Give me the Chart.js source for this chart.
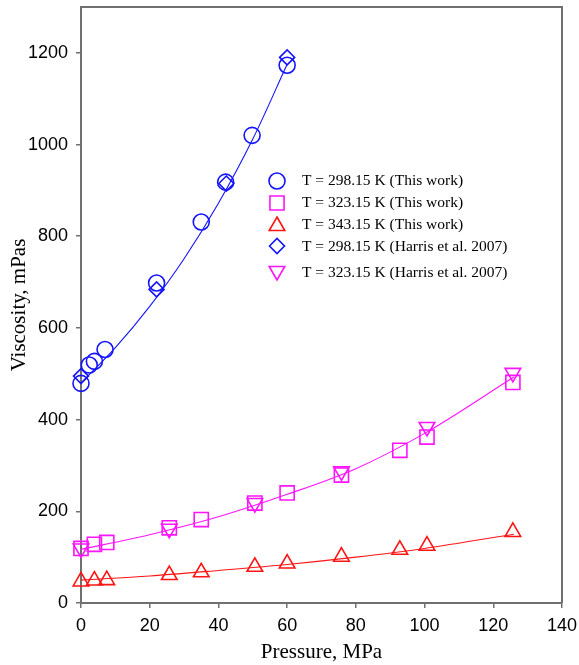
<!DOCTYPE html>
<html>
<head>
<meta charset="utf-8">
<script src="https://cdn.jsdelivr.net/npm/chart.js@4"></script>
<style>
  body { margin: 0; background: #fff; }
  #wrap { width: 579px; height: 665px; }
</style>
</head>
<body>
<div id="wrap"><canvas id="viscChart"></canvas></div>
<script>
// measured points, pressure in MPa, viscosity in mPa s
const p298 = [0, 2.4, 3.9, 7.0, 22.0, 35.0, 42.1, 49.8, 60.0];
const v298 = [479, 519, 527, 553, 698, 831, 918, 1020, 1173];
const p323 = [0, 3.9, 7.5, 25.7, 35.0, 50.6, 60.0, 75.8, 92.8, 100.7, 125.7];
const v323 = [119, 128, 132, 164, 182, 218, 240, 279, 333, 362, 481];
const p343 = [0, 3.9, 7.5, 25.7, 35.0, 50.6, 60.0, 75.8, 92.8, 100.7, 125.7];
const v343 = [47, 49, 50, 61, 67, 79, 86, 101, 116, 125, 155];

// literature values (Harris et al. 2007)
const pHarris298 = [0, 22.0, 42.3, 60.0];
const vHarris298 = [495, 684, 915, 1190];
const pHarris323 = [0, 25.7, 50.6, 75.8, 100.7, 125.7];
const vHarris323 = [119, 162, 218, 287, 384, 502];

// correlation curves
const pFit298 = [0, 10, 20, 30, 40, 50, 60];
const vFit298 = [480, 557, 647, 751, 872, 1012, 1175];
const pFit323 = [0, 20, 40, 60, 80, 100, 126];
const vFit323 = [117, 149, 188, 237, 293, 370, 493];
const pFit343 = [0, 20, 40, 60, 80, 100, 126];
const vFit343 = [50, 59, 71, 84, 100, 119, 150];

const xTicks = [0, 20, 40, 60, 80, 100, 120, 140];
const yTicks = [0, 200, 400, 600, 800, 1000, 1200];

const legendLabels = [
  'T = 298.15 K (This work)',
  'T = 323.15 K (This work)',
  'T = 343.15 K (This work)',
  'T = 298.15 K (Harris et al. 2007)',
  'T = 323.15 K (Harris et al. 2007)'
];

const BLUE = '#1414ff';
const MAGENTA = '#ff14ff';
const RED = '#ff1414';
const AXIS = '#707070';

const pts = (xs, ys) => xs.map((x, i) => ({ x: x, y: ys[i] }));

function markers(label, xs, ys, color, style, radius, rotation) {
  return {
    label: label,
    data: pts(xs, ys),
    showLine: false,
    pointStyle: style,
    pointRadius: radius,
    pointHoverRadius: radius,
    pointRotation: rotation || 0,
    pointBorderColor: color,
    pointBackgroundColor: 'rgba(0,0,0,0)',
    pointBorderWidth: 1.6,
    borderColor: color,
    clip: false
  };
}

function curve(xs, ys, color) {
  return {
    type: 'line',
    data: pts(xs, ys),
    borderColor: color,
    borderWidth: 1.1,
    pointRadius: 0,
    cubicInterpolationMode: 'monotone',
    fill: false,
    clip: false
  };
}

// box around the plot plus the legend inside it
const framePlugin = {
  id: 'frame',
  beforeDatasetsDraw(chart) {
    const { ctx, chartArea: a } = chart;
    ctx.save();
    ctx.strokeStyle = AXIS;
    ctx.lineWidth = 2;
    ctx.beginPath();
    ctx.moveTo(a.left, a.top);
    ctx.lineTo(a.right, a.top);
    ctx.lineTo(a.right, a.bottom);
    ctx.stroke();
    ctx.restore();
  },
  afterDatasetsDraw(chart, args, opts) {
    const { ctx } = chart;
    ctx.save();
    ctx.font = opts.font;
    ctx.textBaseline = 'middle';
    ctx.textAlign = 'left';
    opts.rows.forEach((row, i) => {
      const ds = chart.data.datasets[i];
      ctx.fillStyle = 'rgba(0,0,0,0)';
      ctx.strokeStyle = ds.pointBorderColor;
      ctx.lineWidth = ds.pointBorderWidth;
      Chart.helpers.drawPoint(ctx, {
        pointStyle: ds.pointStyle,
        radius: ds.pointRadius,
        rotation: ds.pointRotation,
        borderWidth: ds.pointBorderWidth
      }, opts.symbolX, row.sy);
      ctx.fillStyle = '#000';
      ctx.fillText(legendLabels[i], opts.textX, row.ty);
    });
    ctx.restore();
  }
};

Chart.defaults.font.family = '"Liberation Sans", Arial, sans-serif';
Chart.defaults.font.size = 18;
Chart.defaults.color = '#000';

new Chart(document.getElementById('viscChart'), {
  type: 'scatter',
  data: {
    datasets: [
      markers(legendLabels[0], p298, v298, BLUE, 'circle', 8),
      markers(legendLabels[1], p323, v323, MAGENTA, 'rect', 10),
      markers(legendLabels[2], p343, v343, RED, 'triangle', 9),
      markers(legendLabels[3], pHarris298, vHarris298, BLUE, 'rectRot', 7.5),
      markers(legendLabels[4], pHarris323, vHarris323, MAGENTA, 'triangle', 9, 180),
      curve(pFit298, vFit298, BLUE),
      curve(pFit323, vFit323, MAGENTA),
      curve(pFit343, vFit343, RED)
    ]
  },
  options: {
    responsive: true,
    maintainAspectRatio: false,
    animation: false,
    layout: { autoPadding: false, padding: { top: 7, right: 17, left: 0, bottom: 0 } },
    plugins: {
      legend: { display: false },
      tooltip: { enabled: false },
      frame: {
        font: '15.5px "Liberation Serif", "Times New Roman", serif',
        symbolX: 277,
        textX: 302,
        rows: [
          { sy: 181, ty: 181 },
          { sy: 203, ty: 203 },
          { sy: 226, ty: 225 },
          { sy: 246, ty: 247 },
          { sy: 271, ty: 273 }
        ]
      }
    },
    scales: {
      x: {
        type: 'linear',
        min: 0,
        max: 140,
        afterBuildTicks: s => { s.ticks = xTicks.map(v => ({ value: v })); },
        afterFit: s => {
          s.height = 62;
          s.paddingLeft = 0;
          s.paddingRight = 0;
        },
        grid: { drawOnChartArea: false, tickLength: 5, color: AXIS, lineWidth: 1.5 },
        border: { color: AXIS, width: 2 },
        ticks: { padding: 7, maxRotation: 0, callback: v => String(v) },
        title: {
          display: true,
          text: 'Pressure, MPa',
          font: { family: '"Liberation Serif", "Times New Roman", serif', size: 21 },
          padding: { top: 0, bottom: 0 }
        }
      },
      y: {
        type: 'linear',
        min: 0,
        max: 1300,
        afterBuildTicks: s => { s.ticks = yTicks.map(v => ({ value: v })); },
        afterFit: s => {
          s.width = 81;
          s.paddingTop = 0;
          s.paddingBottom = 0;
        },
        grid: { drawOnChartArea: false, tickLength: 5, color: AXIS, lineWidth: 1.5 },
        border: { color: AXIS, width: 2 },
        ticks: { padding: 8, callback: v => String(v) },
        title: {
          display: true,
          text: 'Viscosity, mPas',
          font: { family: '"Liberation Serif", "Times New Roman", serif', size: 21 },
          padding: { top: 7, bottom: 0 }
        }
      }
    }
  },
  plugins: [framePlugin]
});
</script>
</body>
</html>
